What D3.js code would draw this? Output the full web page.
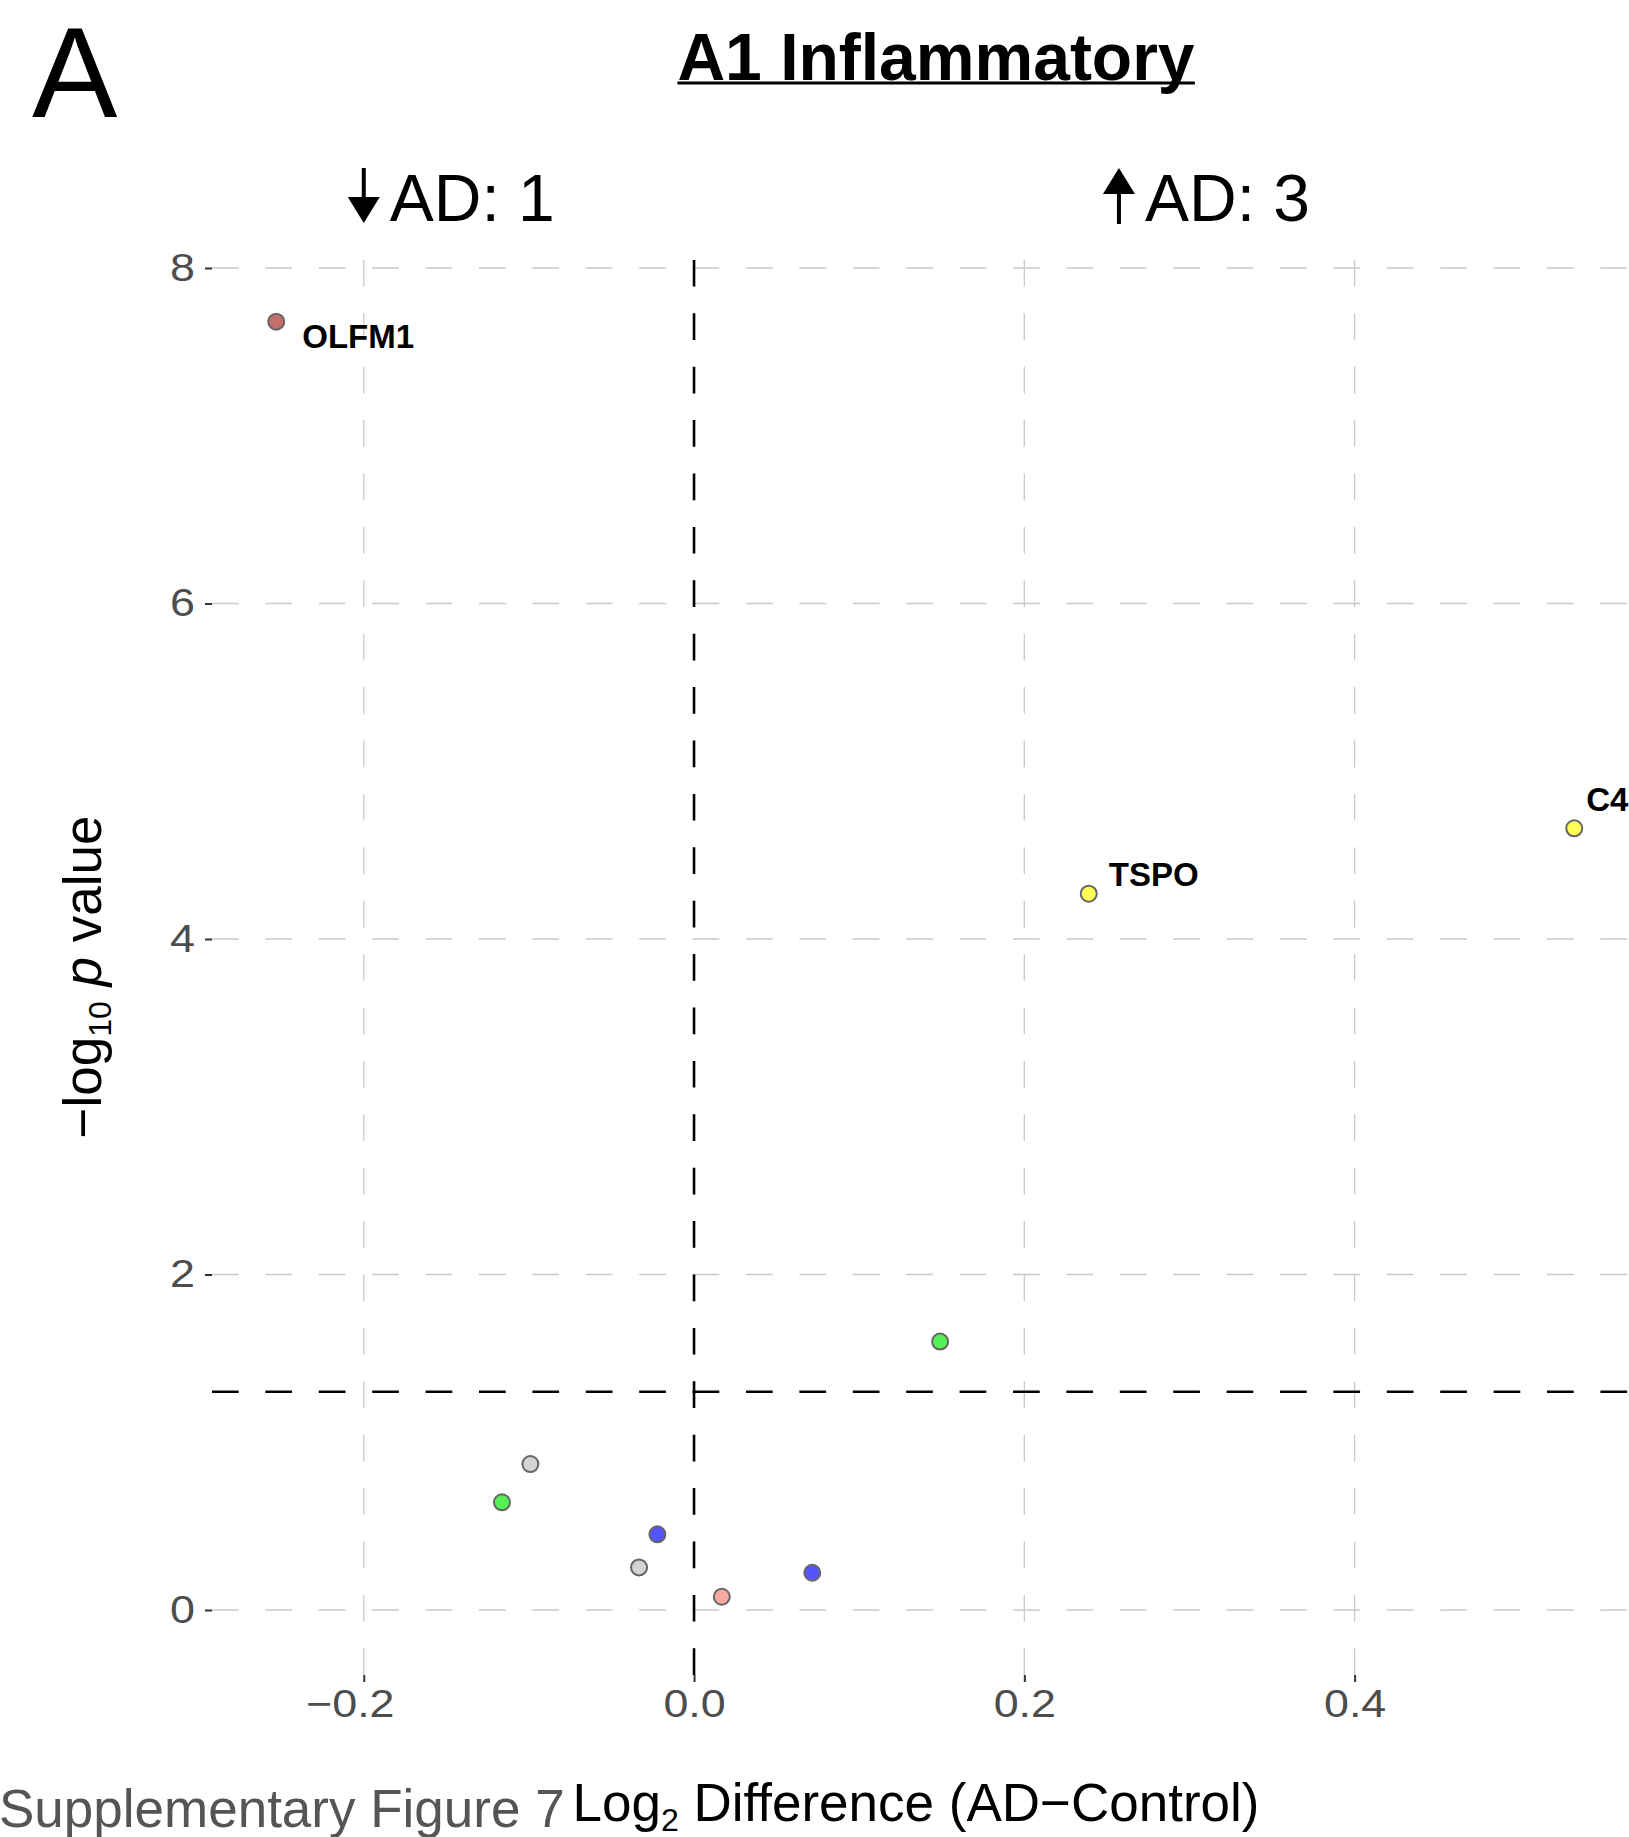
<!DOCTYPE html>
<html>
<head>
<meta charset="utf-8">
<script src="https://cdn.jsdelivr.net/npm/d3@7"></script>
<style>
  html, body { margin: 0; padding: 0; background: #fff; }
  svg { display: block; font-family: "Liberation Sans", Arial, Helvetica, sans-serif; }
</style>
</head>
<body>
<svg id="chart" width="1629" height="1837"></svg>
<script>
// ---- data ----
const genes     = ["OLFM1", "TSPO", "C4", "g4", "g5", "g6", "g7", "g8", "g9", "g10"];
const log2Diff  = [-0.2530, 0.2390, 0.5330, 0.1490, -0.0991, -0.1163, -0.0222, -0.0333, 0.0168, 0.0716];
const negLogP   = [7.68, 4.27, 4.66, 1.60, 0.870, 0.642, 0.451, 0.254, 0.079, 0.222];
const fills     = ["#c46e6e", "#ffff55", "#ffff55", "#55f055", "#d3d3d3", "#55f055", "#5555ff", "#d3d3d3", "#f9a99f", "#5555ff"];
const labelled  = ["OLFM1", "TSPO", "C4"];
const xTicks    = [-0.2, 0.0, 0.2, 0.4];
const xTickLabels = ["\u22120.2", "0.0", "0.2", "0.4"];
const yTicks    = [0, 2, 4, 6, 8];
const pThreshold = -Math.log10(0.05);
const countDown = 1, countUp = 3;

(function () {
// ---- layout ----
const svg = d3.select("#chart");
const pLeft = 212, pRight = 1637, pTop = 256, pBottom = 1675;
const x = d3.scaleLinear().domain([-0.2919, 0.5710]).range([pLeft, pRight]);
const y = d3.scaleLinear().domain([-0.3875, 8.0715]).range([pBottom, pTop]);
const sx = 1.18; // horizontal stretch of tick-label glyphs

// grid lines
const grid = svg.append("g");
grid.selectAll("line.h").data(yTicks).enter().append("line")
  .attr("x1", pLeft).attr("x2", pRight)
  .attr("y1", d => y(d)).attr("y2", d => y(d))
  .attr("stroke", "#c9c9c9").attr("stroke-width", 1.5)
  .attr("stroke-dasharray", "26.7,26.7");
grid.selectAll("line.v").data(xTicks).enter().append("line")
  .attr("x1", d => x(d)).attr("x2", d => x(d))
  .attr("y1", pBottom).attr("y2", pTop)
  .attr("stroke", "#c9c9c9").attr("stroke-width", 1.3)
  .attr("stroke-dasharray", "26.7,26.7");

// reference lines
svg.append("line")
  .attr("x1", x(0)).attr("x2", x(0)).attr("y1", pBottom).attr("y2", pTop)
  .attr("stroke", "#000").attr("stroke-width", 2.6).attr("stroke-dasharray", "26.7,26.7");
svg.append("line")
  .attr("x1", pLeft).attr("x2", pRight).attr("y1", y(pThreshold)).attr("y2", y(pThreshold))
  .attr("stroke", "#000").attr("stroke-width", 2.6).attr("stroke-dasharray", "26.7,26.7");

// axes
const yAxis = d3.axisLeft(y).tickValues(yTicks).tickSize(7).tickPadding(9).tickFormat(d3.format("d"));
const gy = svg.append("g").attr("transform", `translate(${pLeft},0)`).call(yAxis);
gy.select(".domain").remove();
gy.selectAll(".tick line").attr("stroke", "#333").attr("stroke-width", 2);
gy.selectAll(".tick text").attr("fill", "#4d4d4d").attr("font-size", 38)
  .attr("font-family", "Liberation Sans, Arial, sans-serif")
  .attr("x", -17 / sx).attr("transform", `scale(${sx},1)`);

const xAxis = d3.axisBottom(x).tickValues(xTicks).tickSize(7).tickPadding(8)
  .tickFormat((d, i) => xTickLabels[i]);
const gx = svg.append("g").attr("transform", `translate(0,${pBottom})`).call(xAxis);
gx.select(".domain").remove();
gx.selectAll(".tick line").attr("stroke", "#333").attr("stroke-width", 2);
gx.selectAll(".tick text").attr("fill", "#4d4d4d").attr("font-size", 38)
  .attr("font-family", "Liberation Sans, Arial, sans-serif")
  .attr("transform", `scale(${sx},1)`)
  .attr("x", d => d < 0 ? -14 / sx : 0);

// points
const pts = genes.map((g, i) => ({ g, x: log2Diff[i], y: negLogP[i], fill: fills[i] }));
svg.append("g").selectAll("circle").data(pts).enter().append("circle")
  .attr("cx", d => x(d.x)).attr("cy", d => y(d.y)).attr("r", 8)
  .attr("fill", d => d.fill).attr("stroke", "#666").attr("stroke-width", 2);

// gene labels (offsets in px, as placed by repel)
const labelOffset = { OLFM1: [26, 26], TSPO: [20, -8], C4: [12, -17] };
svg.append("g").selectAll("text").data(pts.filter(d => labelled.includes(d.g))).enter().append("text")
  .attr("x", d => x(d.x) + labelOffset[d.g][0])
  .attr("y", d => y(d.y) + labelOffset[d.g][1])
  .attr("font-size", 33).attr("font-weight", "bold").attr("fill", "#000")
  .text(d => d.g);

// panel letter
svg.append("text").attr("x", 32).attr("y", 117).attr("font-size", 128).attr("fill", "#000").text("A");

// title
const title = svg.append("text").attr("x", 936).attr("y", 80).attr("text-anchor", "middle")
  .attr("font-size", 66).attr("font-weight", "bold").attr("fill", "#000").text("A1 Inflammatory");
const tb = title.node().getBBox();
svg.append("line").attr("x1", tb.x).attr("x2", tb.x + tb.width).attr("y1", 83).attr("y2", 83)
  .attr("stroke", "#000").attr("stroke-width", 3);

// direction counts
function arrowLabel(cx, up, txt) {
  const g = svg.append("g");
  if (up) {
    g.append("path").attr("d", `M${cx - 16},194 L${cx + 16},194 L${cx},168 Z`).attr("fill", "#000");
    g.append("rect").attr("x", cx - 2).attr("y", 190).attr("width", 4).attr("height", 34).attr("fill", "#000");
  } else {
    g.append("rect").attr("x", cx - 2).attr("y", 168).attr("width", 4).attr("height", 34).attr("fill", "#000");
    g.append("path").attr("d", `M${cx - 16},197 L${cx + 16},197 L${cx},223 Z`).attr("fill", "#000");
  }
  g.append("text").attr("x", cx + 26).attr("y", 221).attr("font-size", 66).attr("fill", "#000").text(txt);
}
arrowLabel(x(-0.2), false, "AD: " + countDown);
arrowLabel(x(0.2573), true, "AD: " + countUp);

// y axis title
const yt = svg.append("text").attr("transform", "translate(101,977) rotate(-90)")
  .attr("text-anchor", "middle").attr("font-size", 53).attr("fill", "#000");
yt.append("tspan").text("\u2212log");
yt.append("tspan").attr("font-size", 32).attr("dy", 10).text("10");
yt.append("tspan").attr("dy", -10).text(" ");
yt.append("tspan").attr("font-style", "italic").text("p");
yt.append("tspan").text(" value");

// x axis title
const xt = svg.append("text").attr("x", 916).attr("y", 1821).attr("text-anchor", "middle")
  .attr("font-size", 53).attr("fill", "#000");
xt.append("tspan").text("Log");
xt.append("tspan").attr("font-size", 32).attr("dy", 10).text("2");
xt.append("tspan").attr("dy", -10).text(" Difference (AD\u2212Control)");

// footer (cut off at the bottom edge, as in the source figure)
svg.append("text").attr("x", -1).attr("y", 1827).attr("font-size", 53).attr("fill", "#555")
  .text("Supplementary Figure 7");
})();
</script>
</body>
</html>
